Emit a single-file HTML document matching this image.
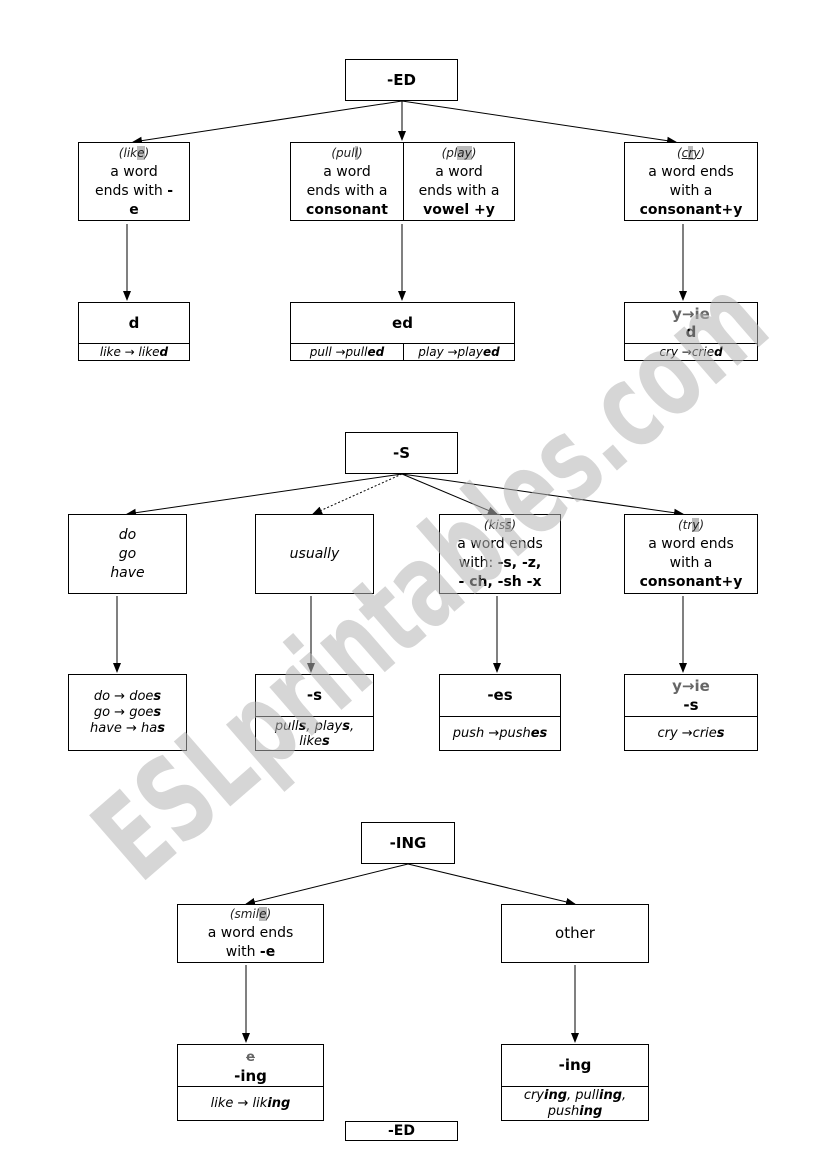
<!DOCTYPE html>
<html><head><meta charset="utf-8">
<style>
html,body{margin:0;padding:0;background:#fff;}
#pg{position:relative;width:826px;height:1169px;overflow:hidden;font-family:"DejaVu Sans","Liberation Sans",sans-serif;color:#000;}
.b{position:absolute;border:1px solid #000;box-sizing:border-box;background:#fff;display:flex;flex-direction:column;justify-content:center;align-items:stretch;text-align:center;font-size:14px;line-height:19px;}
.c{box-sizing:border-box;display:flex;flex-direction:column;justify-content:center;text-align:center;}
.s{font-size:12px;line-height:14px;font-style:italic;color:#222;}
.i{font-style:italic;font-size:13px;line-height:16px;}
.n{white-space:nowrap;font-size:12px;line-height:15px;overflow:hidden;}
.hl{background:#bbb;}
.g{color:#666;}
.bd{font-weight:bold;font-size:15px;}
svg{position:absolute;left:0;top:0;}
</style></head><body><div id="pg">

<svg width="826" height="1169" viewBox="0 0 826 1169">
<defs><marker id="a" markerWidth="10" markerHeight="10" refX="9" refY="5" orient="auto" markerUnits="userSpaceOnUse"><path d="M0,1 L10,5 L0,9 z" fill="#000"/></marker></defs>
<g stroke="#000" stroke-width="1" fill="none" marker-end="url(#a)">
<line x1="402" y1="101" x2="133" y2="142"/>
<line x1="402" y1="101" x2="402" y2="140"/>
<line x1="402" y1="101" x2="676" y2="142"/>
<line x1="127" y1="224" x2="127" y2="300"/>
<line x1="402" y1="224" x2="402" y2="300"/>
<line x1="683" y1="224" x2="683" y2="300"/>
<line x1="402" y1="474" x2="127" y2="514"/>
<line x1="402" y1="474" x2="313" y2="514" stroke-dasharray="2,2"/>
<line x1="402" y1="474" x2="497" y2="514"/>
<line x1="402" y1="474" x2="683" y2="514"/>
<line x1="117" y1="596" x2="117" y2="672"/>
<line x1="311" y1="596" x2="311" y2="672"/>
<line x1="497" y1="596" x2="497" y2="672"/>
<line x1="683" y1="596" x2="683" y2="672"/>
<line x1="408" y1="864" x2="246" y2="904"/>
<line x1="408" y1="864" x2="575" y2="904"/>
<line x1="246" y1="965" x2="246" y2="1042"/>
<line x1="575" y1="965" x2="575" y2="1042"/>
</g></svg>

<!-- ED -->
<div class="b bd" style="left:345px;top:59px;width:113px;height:42px;"><div>-ED</div></div>
<div class="b" style="left:78px;top:142px;width:112px;height:79px;"><div><span class="s">(lik<span class="hl">e</span>)</span><br>a word<br>ends with <b>-</b><br><b>e</b></div></div>
<div class="b" style="left:290px;top:142px;width:225px;height:79px;flex-direction:row;">
 <div class="c" style="width:113px;border-right:1px solid #000;"><div><span class="s">(pul<span class="hl">l</span>)</span><br>a word<br>ends with a<br><b>consonant</b></div></div>
 <div class="c" style="width:110px;"><div><span class="s">(pl<span class="hl">ay</span>)</span><br>a word<br>ends with a<br><b>vowel +y</b></div></div>
</div>
<div class="b" style="left:624px;top:142px;width:134px;height:79px;"><div><span class="s">(<u>c<span class="hl">r</span>y</u>)</span><br>a word ends<br>with a<br><b>consonant+y</b></div></div>

<div class="b" style="left:78px;top:302px;width:112px;height:59px;justify-content:flex-start;">
 <div class="c bd" style="height:41px;border-bottom:1px solid #000;">d</div>
 <div class="c i n" style="height:16px;"><div>like → like<b>d</b></div></div></div>
<div class="b" style="left:290px;top:302px;width:225px;height:59px;justify-content:flex-start;">
 <div class="c bd" style="height:41px;border-bottom:1px solid #000;">ed</div>
 <div style="display:flex;height:16px;">
 <div class="c i n" style="width:113px;border-right:1px solid #000;"><div>pull →pull<b>ed</b></div></div>
 <div class="c i n" style="width:110px;"><div>play →play<b>ed</b></div></div></div></div>
<div class="b" style="left:624px;top:302px;width:134px;height:59px;justify-content:flex-start;">
 <div class="c bd" style="height:41px;border-bottom:1px solid #000;line-height:18px;"><div><span class="g">y→ie</span><br>d</div></div>
 <div class="c i n" style="height:16px;"><div>cry →crie<b>d</b></div></div></div>

<!-- S -->
<div class="b bd" style="left:345px;top:432px;width:113px;height:42px;"><div>-S</div></div>
<div class="b" style="left:68px;top:514px;width:119px;height:80px;font-style:italic;"><div>do<br>go<br>have</div></div>
<div class="b" style="left:255px;top:514px;width:119px;height:80px;font-style:italic;"><div>usually</div></div>
<div class="b" style="left:439px;top:514px;width:122px;height:80px;"><div><span class="s">(kis<span class="hl">s</span>)</span><br>a word ends<br>with: <b>-s, -z,</b><br><b>- ch, -sh -x</b></div></div>
<div class="b" style="left:624px;top:514px;width:134px;height:80px;"><div><span class="s">(tr<span class="hl">y</span>)</span><br>a word ends<br>with a<br><b>consonant+y</b></div></div>

<div class="b i" style="left:68px;top:674px;width:119px;height:77px;"><div>do → doe<b>s</b><br>go → goe<b>s</b><br>have → ha<b>s</b></div></div>
<div class="b" style="left:255px;top:674px;width:119px;height:77px;justify-content:flex-start;">
 <div class="c bd" style="height:42px;border-bottom:1px solid #000;">-s</div>
 <div class="c i" style="height:33px;line-height:15px;"><div>pull<b>s</b>, play<b>s</b>,<br>like<b>s</b></div></div></div>
<div class="b" style="left:439px;top:674px;width:122px;height:77px;justify-content:flex-start;">
 <div class="c bd" style="height:42px;border-bottom:1px solid #000;">-es</div>
 <div class="c i" style="height:33px;"><div>push →push<b>es</b></div></div></div>
<div class="b" style="left:624px;top:674px;width:134px;height:77px;justify-content:flex-start;">
 <div class="c bd" style="height:42px;border-bottom:1px solid #000;line-height:19px;"><div><span class="g">y→ie</span><br>-s</div></div>
 <div class="c i" style="height:33px;"><div>cry →crie<b>s</b></div></div></div>

<!-- ING -->
<div class="b bd" style="left:361px;top:822px;width:94px;height:42px;"><div>-ING</div></div>
<div class="b" style="left:177px;top:904px;width:147px;height:59px;"><div><span class="s">(smil<span class="hl">e</span>)</span><br>a word ends<br>with <b>-e</b></div></div>
<div class="b" style="left:501px;top:904px;width:148px;height:59px;font-size:15px;"><div>other</div></div>
<div class="b" style="left:177px;top:1044px;width:147px;height:77px;justify-content:flex-start;">
 <div class="c bd" style="height:42px;border-bottom:1px solid #000;line-height:18px;"><div><s class="g" style="font-size:13px;">e</s><br>-ing</div></div>
 <div class="c i" style="height:33px;"><div>like → lik<b>ing</b></div></div></div>
<div class="b" style="left:501px;top:1044px;width:148px;height:77px;justify-content:flex-start;">
 <div class="c bd" style="height:42px;border-bottom:1px solid #000;">-ing</div>
 <div class="c i" style="height:33px;"><div>cry<b>ing</b>, pull<b>ing</b>,<br>push<b>ing</b></div></div></div>
<div class="b bd" style="left:345px;top:1121px;width:113px;height:20px;font-size:14px;"><div>-ED</div></div>

<svg width="826" height="1169" viewBox="0 0 826 1169" style="pointer-events:none;">
<text x="140" y="885" transform="rotate(-41 140 885)" font-family="DejaVu Sans, sans-serif" font-weight="bold" font-size="118" textLength="840" lengthAdjust="spacingAndGlyphs" fill="#b4b4b4" fill-opacity="0.55">ESLprintables.com</text>
</svg>
</div></body></html>
